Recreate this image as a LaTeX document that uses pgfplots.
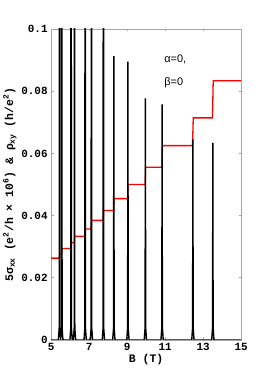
\documentclass[border=0pt]{standalone}
\usepackage{pgfplots}
\pgfplotsset{compat=1.18}
\usepackage{fontspec}
\setmainfont{Liberation Sans}
\setmonofont{Liberation Mono}
\begin{document}
\begin{tikzpicture}
\begin{axis}[
  scale only axis,
  width=190bp, height=311bp,
  xmin=5, xmax=15, ymin=0, ymax=0.1,
  xtick={5,7,9,11,13,15},
  ytick={0,0.02,0.04,0.06,0.08,0.1},
  yticklabels={0,0.02,0.04,0.06,0.08,0.1},
  scaled y ticks=false,
  tick align=inside,
  major tick length=2.5bp,
  axis line style={gray!70, line width=0.6bp},
  tick style={gray!70, line width=0.6bp},
  ticklabel style={font=\fontsize{11}{12}\selectfont\ttfamily\bfseries},
  /pgf/number format/assume math mode=true,
  xtick pos=both, ytick pos=both,
  xlabel={\fontsize{11.5}{13}\selectfont\ttfamily\bfseries B (T)},
  ylabel={\fontsize{11.5}{13}\selectfont\ttfamily\bfseries 5σ\textsubscript{xx} (e\textsuperscript{2}/h × 10\textsuperscript{6}) \& ρ\textsubscript{xy} (h/e\textsuperscript{2})},
  xlabel style={yshift=4bp},
  ylabel style={yshift=-2bp},
  clip=true,
]
% rho_xy (red steps)
\addplot[red, line width=1.3bp] coordinates {
 (5,0.02632) (5.43,0.02632) (5.45,0.02778) (5.55,0.02778) (5.57,0.02941)
 (6.04,0.02941) (6.06,0.03125) (6.22,0.03125) (6.24,0.03333)
 (6.78,0.03333) (6.80,0.03571) (7.11,0.03571) (7.13,0.03846)
 (7.74,0.03846) (7.76,0.04167) (8.29,0.04167) (8.31,0.04545)
 (9.03,0.04545) (9.05,0.05) (9.95,0.05) (9.97,0.05556)
 (10.83,0.05556) (10.86,0.0625) (12.44,0.0625) (12.48,0.07143)
 (13.49,0.07143) (13.53,0.08333) (15,0.08333)
};
% sigma_xx peaks (black)
\addplot[black, line width=1.4bp] coordinates {
 (5,0)
 (5.38,0) (5.425,0.004) (5.44,0.3) (5.455,0.004) (5.50,0)
 (5.545,0.004) (5.56,0.3) (5.575,0.004) (5.62,0)
 (5.99,0) (6.035,0.004) (6.05,0.3) (6.065,0.004) (6.11,0)
 (6.17,0) (6.215,0.004) (6.23,0.3) (6.245,0.004) (6.29,0)
 (6.73,0) (6.775,0.004) (6.79,0.3) (6.805,0.004) (6.85,0)
 (7.06,0) (7.105,0.004) (7.12,0.3) (7.135,0.004) (7.18,0)
 (7.69,0) (7.735,0.004) (7.75,0.3) (7.765,0.004) (7.81,0)
 (8.24,0) (8.285,0.004) (8.30,0.0913) (8.315,0.004) (8.36,0)
 (8.98,0) (9.025,0.004) (9.04,0.0895) (9.055,0.004) (9.10,0)
 (9.90,0) (9.945,0.004) (9.96,0.0777) (9.975,0.004) (10.02,0)
 (10.78,0) (10.825,0.004) (10.84,0.0758) (10.855,0.004) (10.90,0)
 (12.40,0) (12.445,0.004) (12.46,0.0645) (12.475,0.004) (12.52,0)
 (13.45,0) (13.495,0.004) (13.51,0.0634) (13.525,0.004) (13.57,0)
 (15,0)
};
\node[anchor=west, inner sep=0pt, font=\fontsize{11}{12}\selectfont] at (axis cs:10.95,0.0902) {α=0,};
\node[anchor=west, inner sep=0pt, font=\fontsize{11}{12}\selectfont] at (axis cs:10.95,0.0826) {β=0};
\end{axis}
\path (current axis.south west) ++(-50bp,-43bp) rectangle ++(266bp,383bp);
\end{tikzpicture}
\end{document}
